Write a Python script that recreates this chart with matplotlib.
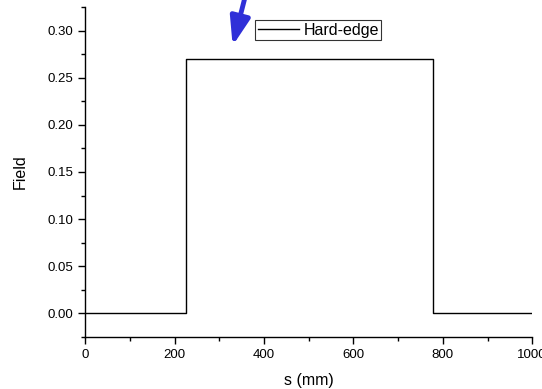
import matplotlib.pyplot as plt
from matplotlib.ticker import MultipleLocator, FormatStrFormatter

plt.rcParams['font.family'] = ['Liberation Sans', 'DejaVu Sans']

# hard-edge field profile along s
s_mm = [0, 226, 226, 778, 778, 1000]
field = [0.0, 0.0, 0.27, 0.27, 0.0, 0.0]

fig = plt.figure(figsize=(5.42, 3.89), dpi=100)
ax = fig.add_axes([0.157, 0.134, 0.825, 0.848])

ax.plot(s_mm, field, color='black', lw=1.0, label='Hard-edge')

ax.set_xlim(0, 1000)
ax.set_ylim(-0.025, 0.325)
ax.xaxis.set_major_locator(MultipleLocator(200))
ax.xaxis.set_minor_locator(MultipleLocator(100))
ax.yaxis.set_major_locator(MultipleLocator(0.05))
ax.yaxis.set_minor_locator(MultipleLocator(0.025))
ax.yaxis.set_major_formatter(FormatStrFormatter('%.2f'))
ax.tick_params(which='major', direction='out', length=5, width=1, labelsize=9.5)
ax.tick_params(which='minor', direction='out', length=3, width=1)
ax.tick_params(axis='x', pad=4)

for side in ('top', 'right'):
    ax.spines[side].set_visible(False)
for side in ('left', 'bottom'):
    ax.spines[side].set_linewidth(1.0)

ax.set_xlabel('s (mm)', fontsize=11.5)
ax.set_ylabel('Field', fontsize=11.5)
ax.xaxis.set_label_coords(0.5, -0.108)
ax.yaxis.set_label_coords(-0.128, 0.5)

leg = ax.legend(loc='upper left', bbox_to_anchor=(0.381, 0.96), fontsize=11.5,
                frameon=True, fancybox=False, handlelength=2.6,
                borderpad=0.15, handletextpad=0.25, borderaxespad=0)
leg.get_frame().set_edgecolor('black')
leg.get_frame().set_linewidth(0.8)

# arrow pointing down at the flat top
ax.annotate('', xy=(330, 0.284), xytext=(358, 0.336),
            arrowprops=dict(arrowstyle='-|>,head_length=0.85,head_width=0.3',
                            color='#3030d8', lw=3.5, mutation_scale=20,
                            shrinkA=0, shrinkB=0),
            annotation_clip=False)

fig.savefig('out.png', dpi=100)
